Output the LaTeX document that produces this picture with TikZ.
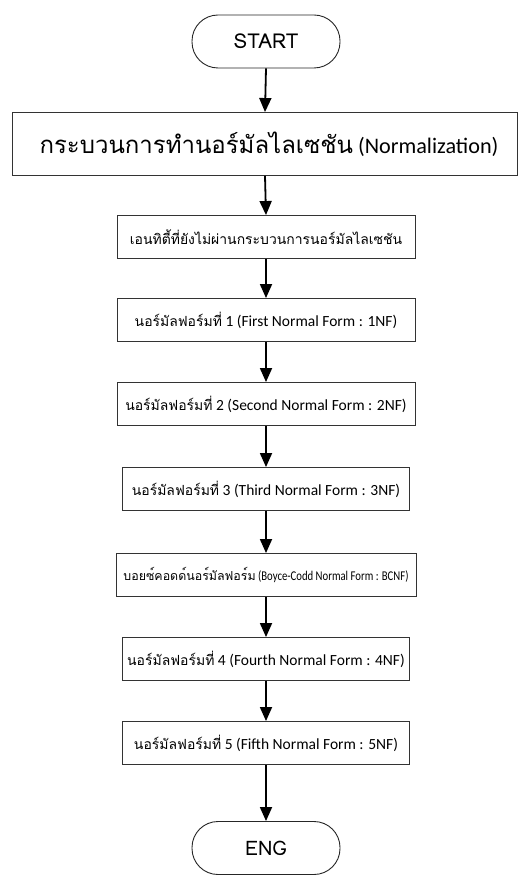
\documentclass[tikz,border=0pt]{standalone}
\usepackage{fontspec}
\newfontfamily\thaifont[Script=Thai,Scale=0.9]{Loma}
\newfontfamily\thaibig[Script=Thai,Scale=1.08]{Loma}
\newfontfamily\termfont{Loma}
\newfontfamily\latinfont{Carlito}
\newfontfamily\latinnarrow[FakeStretch=0.8]{Carlito}
\usetikzlibrary{arrows.meta}
% Thai words in Loma, Latin words in Carlito
\newcommand{\thaiw}[1]{{\thaifont #1}}
\begin{document}
\begin{tikzpicture}[x=1pt,y=-1pt,
  terminal/.style={draw=black!85,line width=0.9pt,rounded corners=26pt,
    minimum width=148pt,minimum height=53pt,inner sep=0pt,
    font=\termfont\fontsize{20.5}{24}\selectfont},
  stepbox/.style={draw=black!80,line width=0.9pt,inner sep=0pt,
    minimum height=43pt,font=\latinfont\fontsize{15.5}{18}\selectfont},
  flow/.style={line width=1.8pt,-{Triangle[length=14pt,width=12pt]}}]
  \useasboundingbox (0,0) rectangle (518,882);
  \fill[white] (0,0) rectangle (518,882);

  \node[terminal] (start) at (266,41.5) {START};
  \node[stepbox,minimum width=505pt,minimum height=63pt,
        font=\latinfont\fontsize{22.2}{26}\selectfont] (norm) at (265,144)
        {\hspace{8pt}{\thaibig กระบวนการทำนอร์มัลไลเซชัน} (Normalization)};
  \node[stepbox,minimum width=298pt] (s0) at (266,237)
        {\thaiw{เอนทิตี้ที่ยังไม่ผ่านกระบวนการนอร์มัลไลเซชัน}};
  \node[stepbox,minimum width=298pt] (s1) at (266,320)
        {\thaiw{นอร์มัลฟอร์มที่} 1 (First Normal Form : 1NF)};
  \node[stepbox,minimum width=298pt] (s2) at (266,404)
        {\thaiw{นอร์มัลฟอร์มที่} 2 (Second Normal Form : 2NF)};
  \node[stepbox,minimum width=287pt] (s3) at (266,489)
        {\thaiw{นอร์มัลฟอร์มที่} 3 (Third Normal Form : 3NF)};
  \node[stepbox,minimum width=300pt,
        font=\latinnarrow\fontsize{13.4}{16}\selectfont] (bc) at (266,575)
        {{\termfont\fontsize{12.4}{15}\selectfont บอยซ์คอดด์นอร์มัลฟอร์ม} (Boyce-Codd Normal Form : BCNF)};
  \node[stepbox,minimum width=287pt] (s4) at (266,659)
        {\thaiw{นอร์มัลฟอร์มที่} 4 (Fourth Normal Form : 4NF)};
  \node[stepbox,minimum width=287pt] (s5) at (266,743)
        {\thaiw{นอร์มัลฟอร์มที่} 5 (Fifth Normal Form : 5NF)};
  \node[terminal,font=\termfont\fontsize{20}{24}\selectfont] (stop) at (266,848) {ENG};

  \foreach \a/\b in {start/norm,norm/s0,s0/s1,s1/s2,s2/s3,s3/bc,bc/s4,s4/s5,s5/stop}
    \draw[flow] (\a.south) -- (\b.north);
\end{tikzpicture}
\end{document}
